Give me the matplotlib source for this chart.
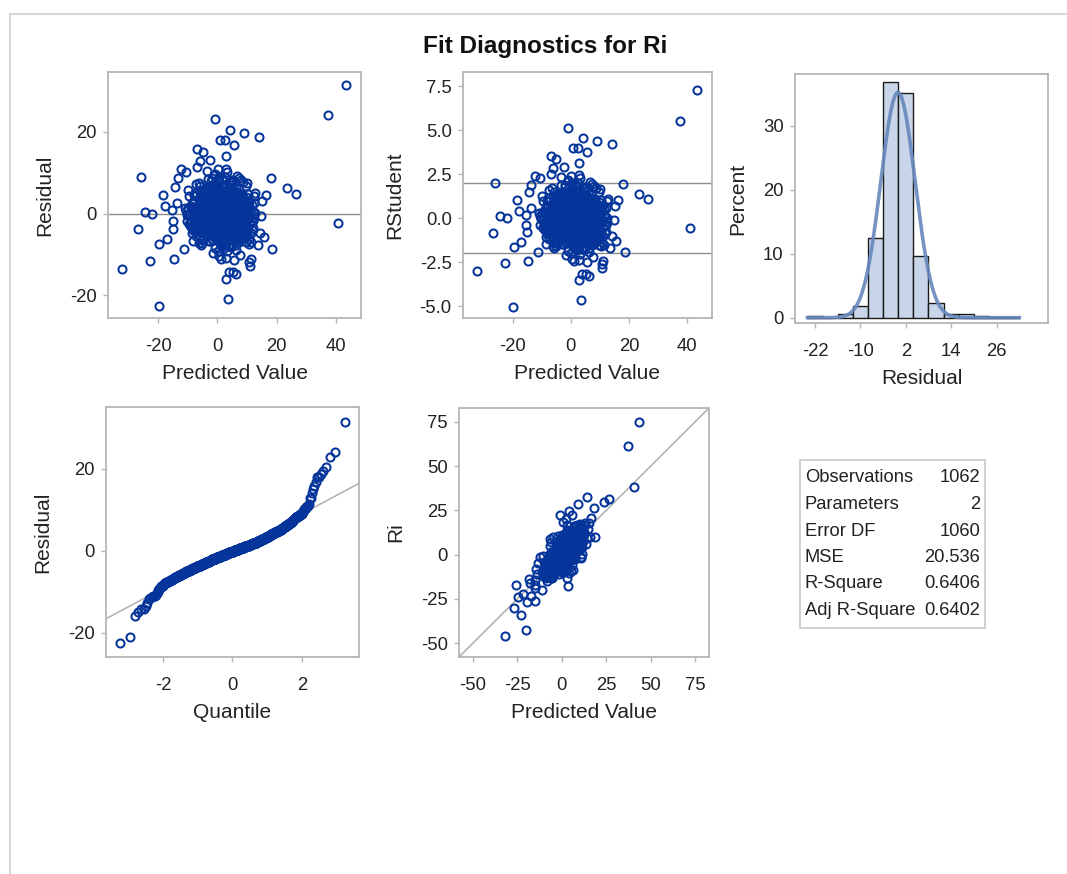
import statistics
import numpy as np
import matplotlib
matplotlib.use("Agg")
import matplotlib.pyplot as plt
from matplotlib.lines import Line2D
from matplotlib.patches import Rectangle

plt.rcParams["font.family"] = ["Liberation Sans", "DejaVu Sans"]
plt.rcParams["axes.unicode_minus"] = False

# points (the ones outside the blob)
outer_pred = [43.3, 37.4, 40.8, -0.8, 4.3, 9.1, 14.0, 0.7, 2.4, 5.6,
              -6.8, -5.0, 3.0, -6.0, -2.4, -12.2, -10.7, -26.0, 18.0, -13.5,
              -14.5, 23.5, 26.4, -18.3, 16.3, -17.9, -24.4, -22.0, -26.7, -15.2,
              -15.0, -17.1, -19.6, -11.2, 18.5, -32.2, -22.7, -14.8, -19.9, 3.4,
              2.9, 3.8, 5.1, 6.4, 1.1, 2.9, 7.6, 10.6, 10.9, 11.2,
              13.6, 15.6, 14.2, 14.8, 15.1, 12.2, 0.1, -8.4, -13.7, -15.3]
outer_resid = [31.5, 24.2, -2.4, 23.0, 20.5, 19.6, 18.8, 18.0, 18.0, 16.8,
               15.9, 15.0, 14.0, 12.9, 13.0, 10.9, 10.2, 9.0, 8.6, 8.6,
               6.6, 6.2, 4.9, 4.6, 4.6, 1.8, 0.4, 0.0, -3.7, -1.8,
               -3.7, -6.1, -7.3, -8.6, -8.6, -13.5, -11.5, -11.1, -22.6, -20.9,
               -15.9, -14.3, -14.3, -14.8, -11.1, -10.8, -10.1, -11.7, -12.7, -11.1,
               -7.7, -5.8, -4.7, -0.5, 3.0, 2.6, -9.1, -6.6, 2.6, 0.8]

# dense core of the cloud (estimated), first block
core_pred = [1.2, -3.4, 5.6, 0.3, 7.9, -1.8, 3.5, -6.2, 2.7, 9.4, -0.5, 4.1, -4.7, 6.3, 1.9,
             -2.6, 8.2, 0.8, -7.5, 3.0, 5.1, -1.1, 10.6, 2.2, -3.9, 6.8, 0.0, -5.4, 4.5, 1.5,
             7.2, -2.0, 3.8, -8.6, 0.6, 5.9, -0.9, 2.9, 11.3, -4.2, 1.7, 6.0, -1.5, 3.3, -6.8,
             4.8, 0.2, 8.7, -3.0, 2.4, -0.2, 6.5, -5.0, 1.0, 9.8, -2.3, 3.6, 0.9, -9.3, 5.3,
             2.0, -1.3, 7.5, -4.5, 4.0, 0.4, -7.0, 3.1, 6.7, -0.7, 1.4, 10.1, -3.6, 5.0, 2.6,
             -5.8, 0.7, 4.4, -2.8, 8.0, 1.6, -0.4, 6.1, -6.5, 3.4, 2.1, -1.9, 12.0, 0.1, 4.9,
             -3.2, 7.0, 1.1, -8.1, 5.5, 2.8, -0.1, 9.0, -4.9, 3.9, 0.5, 6.4, -2.5, 1.8, -10.2,
             4.2, -1.0, 8.5, 2.3, -6.0, 5.7, 0.0, 3.2, -3.3, 7.7, 1.3, -0.8, 10.9, -5.2, 2.5,
             6.2, -2.1, 0.6, 4.6, -7.8, 3.7, 1.9, -1.4, 8.9, -4.0, 5.2, 0.3, -9.0, 2.0, 6.9,
             -0.6, 3.0, -5.6, 7.3, 1.5, -2.9, 4.3, 11.8, -1.2, 2.7, -7.2, 5.8, 0.8, -3.7, 9.6,
             1.0, -0.3, 6.6, -4.4, 3.5, 0.2, 8.3, -6.6, 2.2, 4.7, -1.7, 7.1, -2.4, 1.6, 5.4,
             -8.8, 3.3, 0.9, 6.0, -3.1, 2.6, 10.3, -1.6, 4.0, -5.3, 1.2, 7.6, -0.9, 3.8, -2.2,
             5.9, 0.4, -6.9, 2.9, 8.6, -1.1, 4.5, -4.1, 1.7, 6.3, -9.7, 3.1, 0.1, -2.7, 7.9,
             2.4, -0.5, 5.0, -5.9, 9.2, 1.4, -3.5, 4.1, 0.7, -7.3, 6.8, 2.1, -1.3, 11.0, 3.6,
             -4.6, 0.0, 7.4, -2.0, 4.9, 1.9, -8.4, 5.6, -0.2, 3.4, -6.3, 8.1, 1.1, -1.8, 2.8,
             6.5, -3.8, 0.5, 9.5, -5.1, 3.9, 2.3, -0.7, 7.2, -2.6, 1.3, 5.2, -10.6, 4.4, 0.6,
             -1.5, 8.4, 2.0, -4.8, 6.1, 0.9, -7.6, 3.0, 12.6, -0.4, 4.6, -3.0, 1.5, 7.0, -5.7,
             2.7, 5.7, -1.0, 0.3, -6.1, 9.9, 3.7, -2.3, 1.8, 6.7, -4.3, 0.8, 4.2, -8.0, 2.2,
             7.8, -0.1, 3.2, -3.4, 5.5, 1.0, -1.9, 10.4, -5.5, 2.5, 6.2, -0.6, 4.8, -7.1, 1.6,
             3.5, -2.8, 8.8, 0.2, -4.0, 5.9, 1.2, -0.3, 6.9, -6.7, 2.9, 4.0, -1.4, 9.1, -3.3,
             0.7, 5.3, -9.1, 2.4, 7.5, -0.8, 3.9, -2.1, 1.4, 11.5, -5.0, 4.7, 0.0, -1.6, 6.4,
             -7.9, 2.1, 4.1, -3.6, 8.0, 1.7, -0.5, 5.1, -6.4, 3.6, 0.4, 7.3, -2.4, 1.9, -4.7,
             9.3, 0.9, 3.4, -1.2, 6.6, -5.4, 2.6, 4.5, -8.5, 1.1, 5.8, -0.9, 10.7, -2.9, 3.1,
             0.1, -3.9, 7.7, 2.3, -1.7, 5.0, -6.2, 4.3, 0.6, 8.3, -2.0, 1.5, -10.9, 6.0, 2.8,
             -0.2, 4.9, -4.5, 3.3, 9.7, -1.0, 1.3, 6.5, -7.4, 2.0, -2.5, 5.6, 0.5, 3.7, -5.8,
             8.6, 1.8, -0.6, 4.4, -3.1, 12.3, 0.2, 2.7, -6.0, 7.1, -1.5, 3.0, -9.5, 5.4, 1.0,
             -2.2, 6.3, 0.8, -4.2, 3.8, 10.0, -0.4, 2.2, -7.7, 4.6, 1.6, -1.1, 7.4, -3.5, 0.3]
core_resid = [-7.8, -4.2, -5.6, -4.9, -6.3, -4.1, -5.0, -7.1, -4.6, -5.3, -4.4, -6.0, -4.8, -5.8, -4.3,
              -6.7, -4.5, -5.2, -4.0, -7.4, -4.7, -5.5, -6.1, -4.2, -4.9, -5.9, -4.6, -6.5, -4.1, -5.1,
              -7.0, -4.4, -5.4, -4.8, -6.2, -4.3, -5.7, -4.5, -6.9, -4.0, -5.0, -4.7, -6.4, -5.3, -4.2,
              -7.6, -4.9, -5.6, -4.1, -6.8,
              -3.9, -0.4, -2.1, -1.3, -3.2, -0.8, -2.7, -1.6, -0.2, -3.5, -1.1, -2.4, -0.6, -1.9, -3.0, -0.9,
              -2.6, -1.4, -0.1, -3.7, -1.8, -0.5, -2.2, -3.3, -1.0, -0.3, -2.9, -1.5, -3.8, -0.7, -2.0, -1.2,
              -0.4, -3.1, -1.7, -2.5, -0.2, -3.6, -1.3, -0.8, -2.8, -1.9, -0.6, -3.4, -2.3, -1.0, -0.1, -2.6,
              -1.5, -3.9, -0.9, -2.0, -1.1, -3.2, -0.3, -1.7, -2.4, -0.5, -3.0, -1.4, -0.7, -2.1, -3.5, -1.2,
              -0.2, -2.7, -1.8, -0.6, -3.7, -1.0, -2.3, -0.4, -1.6, -3.1, -0.8, -2.9, -1.3, -0.1, -2.5, -3.4,
              -1.9, -0.5, -2.2, -1.1, -3.8, -0.3, -1.5, -2.8, -0.7, -3.3, -1.7, -0.9, -2.0, -1.2, -3.6, -0.2,
              -2.6, -1.4, -0.6, -3.0, -1.8, -0.4, -2.4, -1.0, -3.5, -0.1, -2.1, -1.6, -0.8, -2.9, -3.9, -1.3,
              -0.5, -2.3, -1.1, -3.2, -0.3, -1.9, -2.7, -0.7, -1.5, -3.7, -0.9, -2.0, -1.2, -0.2, -3.4, -2.5,
              -1.7, -0.6, -2.8, -1.0, -3.1, -0.4, -1.4, -2.2, -0.1, -3.6, -1.8, -0.8, -2.6, -1.3, -0.5, -3.3,
              -2.0, -0.3, -1.6, -2.9, -0.9, -3.8, -1.1, -0.2, -2.4, -1.5, -0.7, -3.0, -1.9, -0.4, -2.2, -1.2,
              0.3, 2.1, 1.2, 3.4, 0.7, 1.8, 2.9, 0.1, 1.5, 3.8, 0.9, 2.4, 1.0, 3.1, 0.5, 1.7,
              2.6, 0.2, 1.3, 3.6, 0.8, 2.0, 1.6, 0.4, 3.0, 1.1, 2.3, 0.6, 3.9, 1.4, 0.0, 2.7,
              1.9, 0.3, 3.3, 1.2, 0.9, 2.5, 0.1, 1.6, 3.7, 0.7, 2.2, 1.0, 2.8, 0.5, 1.4, 3.2,
              0.2, 1.8, 2.0, 0.8, 3.5, 1.1, 0.4, 2.6, 1.5, 0.0, 2.9, 1.3, 0.6, 3.4, 1.7, 0.3,
              2.3, 1.0, 0.9, 3.0, 1.9, 0.1, 2.4, 1.2, 3.8, 0.5, 1.6, 2.1, 0.7, 3.6, 1.4, 0.2,
              2.7, 1.1, 0.4, 3.1, 1.8, 0.8, 2.5, 0.0, 1.3, 3.3, 0.6, 2.0, 1.5, 0.3, 2.8, 1.7,
              0.9, 3.9, 1.0, 2.2, 0.1, 1.6, 3.5, 0.5, 2.6, 1.2, 0.7, 3.2, 1.9, 0.4, 2.3, 1.4,
              0.2, 3.7, 1.1, 2.9, 0.8, 1.8, 0.6, 3.0, 1.3, 2.1, 0.0, 1.5, 2.4, 0.3, 3.4, 1.0,
              0.9, 2.7, 1.7, 0.5, 3.1, 1.2, 2.0, 0.1, 1.6, 3.6, 0.7, 2.5, 1.4, 0.4, 2.2, 1.9,
              1.1, 0.6, 2.8, 1.3, 0.2, 3.3, 1.8, 0.8,
              4.3, 5.7, 4.1, 6.4, 4.8, 5.2, 7.3, 4.5, 6.0, 4.2, 5.5, 4.9, 6.8, 4.0, 5.1, 4.6, 7.7, 5.9, 4.4,
              6.2, 4.7, 5.4, 4.1, 7.0, 5.0, 4.3, 6.6, 5.8, 4.9, 4.2, 5.3, 6.1, 4.6, 7.5, 4.8, 5.6, 4.4, 6.9,
              8.2, 9.4, 8.7, 10.5, 8.4]

# dense core, second block (estimated)
core2_pred = [2.3, -1.6, 4.7, 0.4, 6.2, 3.1, -0.8, 5.5, 1.9, 7.3, -2.9, 3.8, 0.9, -5.1, 2.6,
              5.0, -3.7, 1.2, 8.4, -0.3, 4.2, -6.4, 2.0, 6.8, -1.2, 3.4, 0.1, 9.7, -4.3, 1.6,
              4.9, -2.2, 7.0, 0.7, -7.3, 3.0, 5.8, -0.5, 2.4, 10.5, -3.1, 1.3, 6.1, -1.8, 4.4,
              0.2, -5.7, 3.6, 8.1, -0.9, 2.1, 5.3, -2.6, 1.0, 7.6, -4.8, 3.2, 0.6, -8.2, 4.0,
              2.8, -1.4, 6.5, 0.0, 9.1, -3.4, 1.7, 4.6, -6.0, 2.3, 5.1, -0.2, 7.8, -2.0, 3.5,
              1.1, -4.1, 5.7, 0.8, -1.1, 11.2, 2.9, -5.3, 4.1, 0.3, 6.4, -2.4, 1.5, 8.8, -0.6,
              3.3, -7.0, 2.2, 5.2, -1.5, 0.5, 6.9, -3.8, 4.8, 1.8, -0.1, 9.4, -5.5, 2.7, 7.2,
              -2.8, 0.9, 4.3, -0.4, 3.0, -9.4, 6.0, 1.4, -1.9, 5.6, 2.5, -4.5, 8.5, 0.1, 3.9,
              -3.3, 1.9, 6.7, -0.7, 4.5, -6.6, 2.1, 10.0, -1.3, 3.6, 0.4, -2.3, 5.4, 1.2, -8.7,
              7.5, 0.0, 4.0, -4.0, 2.6, 6.3, -1.0, 1.6, 12.4, -2.7, 3.1, -5.9, 5.0, 0.7, 8.0,
              -0.3, 2.9, -3.5, 6.6, 1.0, -1.7, 4.7, -7.6, 3.4, 0.5, 9.0, -2.1, 5.9, 1.8, -0.9,
              3.7, -4.9, 7.1, 0.2, 2.4, -1.2, 11.7, -6.3, 4.2, 1.3, -0.5, 6.2, -3.0, 2.0, 5.3,
              -10.4, 0.8, 3.5, -2.5, 8.3, 1.5, -0.1, 4.9, -5.2, 2.7, 6.8, -1.6, 0.3, 9.8, -3.9,
              4.4, 1.1, -7.9, 5.7, -0.8, 3.3, 0.0, 7.4, -2.2, 2.2, -4.6, 6.0, 1.7, -1.4, 10.3,
              0.6, 3.8, -6.8, 5.1, -0.2, 2.5, 8.6, -3.6, 1.4, 4.6, -1.0, 7.7, -5.0, 0.9, 3.0,
              -2.0, 6.5, 1.9, -8.9, 4.1, 0.1, 9.3, -1.8, 2.8, -4.2, 5.5, 0.4, -0.6, 7.0, 2.3,
              -3.2, 4.8, 1.2, -6.1, 3.2, 11.0, -0.4, 5.8, -2.9, 1.6, 8.2, -1.1, 3.9, -7.2, 0.7,
              6.1, -0.9, 2.6, -4.4, 4.5, 1.0, -1.5, 10.8, -5.6, 3.6, 0.2, 6.7, -2.4, 1.5, -9.8,
              5.4, 2.1, -0.7, 7.9, -3.4, 3.1, 0.5, -6.7, 4.3, 1.8, -1.3, 9.5, -4.7, 2.4, 6.3,
              -0.1, 3.5, -2.6, 5.0, 0.8, -8.0, 4.7, 1.3, 12.1, -1.7, 2.9, -5.4, 7.3, 0.0, 3.7,
              -3.7, 1.7, 6.9, -0.5, 4.0, -7.0, 2.2, 8.7, -1.9, 0.6, 5.2, -4.1, 3.3, 1.1, -0.3,
              7.6, -2.3, 2.7, -6.0, 4.9, 0.3, 10.2, -1.2, 3.0, -3.1, 6.4, 1.6, -8.5, 4.2, 0.9,
              -0.8, 5.6, 2.0, -4.9, 8.9, 1.4, -2.7, 3.8, 0.1, -5.8, 6.6, 2.5, -1.4, 9.9, 3.4,
              -3.3, 0.7, 4.6, -7.5, 2.8, 5.9, -0.6, 1.9, -2.1, 7.2, 0.4, -4.3, 3.6, 11.4, -1.0,
              2.3, -6.5, 5.3, 0.0, -1.6, 4.1, 8.0, -3.8, 1.2, 6.2, -0.2, 3.1, -9.1, 2.6, 5.0,
              -2.5, 0.9, 7.5, -4.6, 3.9, 1.5, -1.1, 9.2, -5.7, 2.1, 4.4, -0.4, 6.8, -3.0, 1.0,
              3.2, -7.8, 5.7, 0.5, -1.8, 10.6, 2.9, -4.0, 4.8, 0.2, -2.4, 7.8, 1.7, -6.2, 3.5,
              0.8, -0.9, 6.0, -3.5, 2.4, 8.4, -1.3, 4.5, -5.3, 1.3, 5.6, -0.1, 3.0, -8.3, 2.0,
              6.6, -2.2, 1.6, -4.8, 4.2, 0.3, 9.6, -1.5, 3.7, -6.9, 2.7, 5.1, -0.7, 7.1, -3.6,
              1.9, 4.7, -1.0, 0.6, -5.1, 3.3, 11.9, -2.8, 2.2, 6.4, -0.3, 4.0, -7.4, 1.4, 5.4,
              -1.7, 3.6, 0.1, 8.1, -4.5, 2.5, -0.6, 6.2, 1.1, -2.9, 4.9, -9.9, 3.1, 0.7, 7.4,
              -3.9, 2.8, 5.8, -1.2, 1.8, -6.4, 4.3, 0.4, 9.0, -2.0, 3.4, -4.2, 6.9, 1.2, -0.8,
              4.6, -5.9, 2.1, 7.7, -1.4, 0.0, 5.2, -3.2, 3.9, 10.1, -0.5, 1.5, -7.1, 4.1, 2.6,
              -2.6, 6.1, 0.8, -4.7, 3.2, 8.6, -1.9, 2.3, -0.2, 5.5, -5.5, 1.7, 4.4, -1.1, 7.0,
              0.5, -8.6, 3.7, 1.0, -3.0, 6.5, 2.0, -0.7, 9.4, -4.4, 4.8, 0.2, -2.3, 5.9, 1.3,
              -6.6, 3.0, 7.3, -1.6, 2.6, -0.1, 4.5, -3.7, 12.8, 1.6, -5.2, 5.3, 0.6, -2.1, 3.5,
              8.3, -0.9, 1.8, -4.9, 4.0, 0.3, 6.7, -7.7, 2.4, -1.3, 5.0, 1.1, -2.8, 10.4, -0.4,
              3.8, -6.3, 2.9, 0.9, -1.7, 7.5, -3.4, 4.7, 1.4, -10.0, 5.7, 0.0, -2.5, 3.3, 6.3,
              -0.6, 2.1, -5.0, 8.7, 1.6, -1.5, 4.2, -3.5, 0.7, 6.0, 2.7, -8.1, 3.6, -0.2, 9.8,
              1.2, -4.1, 5.1, 0.4, -2.0, 3.1, 7.9, -6.8, 2.5, -1.0, 4.6, 0.1, -3.3, 6.6, 1.7,
              2.9]
core2_resid = [-8.3, -9.6, -8.1, -10.4, -8.8, -9.2, -8.5, -11.3, -8.0,
               -4.3, -6.6, -5.1, -4.0, -7.2, -4.8, -5.7, -4.5, -6.1, -4.2, -5.4, -7.9, -4.6, -5.0, -6.4,
               -4.1, -5.8, -4.9, -6.9, -4.4, -5.3, -7.5, -4.7, -6.0, -4.2, -5.5, -4.0, -6.7, -5.2, -4.6,
               -7.3, -4.3, -5.9, -4.8, -6.2, -4.1, -5.1, -7.7, -4.5, -5.6, -4.9, -6.5, -4.4, -5.0, -7.0,
               -4.2, -6.3, -4.7, -5.4, -4.0, -7.8, -5.7, -4.6, -6.1, -4.3, -5.2, -4.9, -6.8, -4.1, -5.5,
               -7.4, -4.5, -6.0, -4.8, -5.3, -4.2, -6.6, -5.0, -4.4, -7.1, -5.8, -4.7, -6.3, -4.0, -5.6,
               -4.3, -7.6,
               -0.6, -2.3, -1.4, -3.8, -0.2, -1.9, -2.8, -0.9, -3.3, -1.1, -0.4, -2.6, -1.6, -3.5, -0.7,
               -2.0, -1.2, -3.0, -0.1, -2.4, -1.7, -0.8, -3.6, -1.3, -2.2, -0.5, -2.9, -1.0, -3.9, -0.3,
               -1.8, -2.5, -0.6, -3.2, -1.5, -0.9, -2.1, -3.7, -1.2, -0.2, -2.7, -1.4, -0.7, -3.4, -2.0,
               -1.1, -0.4, -2.3, -3.1, -0.8, -1.7, -2.6, -0.1, -3.8, -1.5, -0.5, -2.2, -1.0, -3.0, -1.9,
               -0.3, -2.8, -1.3, -0.6, -3.5, -2.4, -0.9, -1.6, -3.3, -0.2, -2.1, -1.2, -0.7, -2.9, -1.8,
               -3.6, -0.4, -1.4, -2.5, -0.8, -3.2, -1.1, -0.1, -2.0, -1.7, -3.9, -0.5, -2.7, -1.3, -0.3,
               -2.2, -1.0, -3.4, -0.6, -1.9, -2.6, -0.2, -1.5, -3.1, -0.9, -2.3, -1.2, -0.4, -3.7, -1.6,
               -0.7, -2.8, -1.8, -0.1, -3.0, -2.1, -0.5, -1.4, -2.4, -0.8, -3.5, -1.1, -0.3, -2.0, -1.7,
               -3.3, -0.6, -2.5, -1.3, -0.2, -2.9, -1.0, -3.8, -0.9, -1.9, -2.2, -0.4, -1.5, -3.6, -0.7,
               -2.7, -1.2, -0.1, -2.3, -1.8, -3.2, -0.5, -1.6, -2.6, -0.3, -3.0, -1.4, -0.8, -2.1, -1.1,
               -0.6, -3.4, -1.7, -0.2, -2.4, -1.3, -3.9, -0.9, -2.0, -0.4, -1.5, -2.8, -1.0, -3.1, -0.7,
               -1.9, -0.1, -2.5, -1.2, -3.7, -0.5, -1.8, -2.2, -0.3, -1.6, -3.5, -0.8, -2.9, -1.4, -0.6,
               -2.3, -1.1, -3.3, -0.2, -1.7, -2.7, -0.9, -1.3, -3.0, -0.4, -2.0, -1.5, -0.7, -3.6, -2.6,
               -0.1, -1.9, -1.0, -2.4, -0.5, -3.2, -1.6, -0.3, -2.1, -1.2, -3.8, -0.8, -1.8, -2.8, -0.6,
               -1.4, -3.4, -0.2, -2.5, -1.1, -0.9, -2.2, -1.7, -0.4, -3.1, -1.3, -0.7, -2.0, -1.5, -0.1,
               0.4, 1.9, 0.8, 2.7, 1.3, 0.1, 3.3, 1.6, 0.6, 2.2, 1.0, 3.7, 0.3, 1.4, 2.5,
               0.9, 1.7, 0.2, 3.0, 1.2, 0.5, 2.4, 1.8, 0.0, 3.5, 1.1, 0.7, 2.1, 1.5, 0.3,
               2.8, 1.0, 0.4, 3.9, 1.6, 0.8, 2.3, 1.3, 0.1, 3.2, 1.9, 0.6, 2.6, 1.1, 0.2,
               1.4, 3.6, 0.9, 2.0, 1.7, 0.5, 2.9, 1.2, 0.0, 3.4, 1.5, 0.7, 2.2, 1.0, 0.3,
               3.1, 1.8, 0.8, 2.5, 1.3, 0.4, 3.8, 1.6, 0.1, 2.7, 1.1, 0.6, 2.0, 1.4, 0.2,
               3.3, 1.9, 0.9, 2.4, 1.2, 0.5, 3.0, 1.7, 0.0, 2.1, 1.0, 0.7, 3.6, 1.5, 0.3,
               2.8, 1.3, 0.8, 2.3, 1.8, 0.4, 3.5, 1.1, 0.1, 2.6, 1.6, 0.6, 3.2, 1.4, 0.2,
               1.9, 0.9, 2.9, 1.2, 0.5, 3.9, 1.7, 0.0, 2.2, 1.0, 0.7, 3.1, 1.5, 0.3, 2.5,
               1.3, 0.8, 3.4, 1.8, 0.4, 2.0, 1.1, 0.1, 2.7, 1.6, 0.6, 3.7, 1.4, 0.2, 2.4,
               1.9, 0.9, 3.0, 1.2, 0.5, 2.1, 1.7, 0.0, 3.3, 1.0, 0.7, 2.6, 1.5, 0.3, 2.8,
               1.3, 0.8, 3.8, 1.8, 0.4, 2.3, 1.1, 0.1, 3.2, 1.6, 0.6, 2.0, 1.4, 0.2, 3.5,
               1.9, 0.9, 2.5, 1.2, 0.5, 3.1, 1.7, 0.0, 2.2, 1.0, 0.7, 3.6, 1.5, 0.3, 2.9,
               1.3, 0.8, 2.4, 1.8, 0.4, 3.4, 1.1, 0.1, 2.7, 1.6, 0.6, 3.9, 1.4, 0.2, 2.1,
               1.0, 0.5, 3.0, 1.7, 0.9, 2.6, 1.2, 0.3, 3.3, 1.5, 0.7, 2.3, 1.9, 0.0, 2.8,
               1.1, 0.4, 3.7, 1.6, 0.8, 2.0,
               4.5, 6.1, 4.2, 5.3, 7.4, 4.8, 5.0, 6.7, 4.1, 5.6, 4.4, 7.9, 5.2, 4.7, 6.3,
               4.0, 5.8, 4.6, 6.9, 4.3, 5.1, 7.1, 4.9, 5.5, 4.2, 6.4, 4.7, 5.9, 4.1, 7.6,
               5.4, 4.5, 6.0, 4.8, 5.2, 4.3, 6.6, 5.7, 4.0, 7.2, 4.6, 5.0, 6.2, 4.4, 5.3,
               4.9, 7.8, 4.2, 5.6, 4.7, 6.5, 4.1, 5.1, 7.0, 4.5, 5.9, 4.3, 6.8, 4.8, 5.4,
               8.1, 9.0, 8.6, 10.2, 8.3, 11.4, 8.9, 9.7, 8.0, 10.8, 8.5, 9.3, 8.2, 11.0]

# residual histogram, percent per bin
hist_edges = [-24, -20, -16, -12, -8, -4, 0, 4, 8, 12, 16, 20, 24, 28, 32]
hist_pct = [0.2, 0.0, 0.5, 1.8, 12.5, 36.8, 35.2, 9.7, 2.3, 0.5, 0.5, 0.2, 0.1, 0.1]

stat_names = ["Observations", "Parameters", "Error DF", "MSE", "R-Square", "Adj R-Square"]
stat_values = ["1062", "2", "1060", "20.536", "0.6406", "0.6402"]

n_obs = 1062
n_parm = 2
mse = 20.536

k1 = min(len(core_pred), len(core_resid))
k2 = min(len(core2_pred), len(core2_resid))
pred = np.array(outer_pred + core_pred[:k1] + core2_pred[:k2])
resid = np.array(outer_resid + core_resid[:k1] + core2_resid[:k2])
ri = pred + resid

# studentized deleted residuals
s = np.sqrt(mse)
lev = 1.0 / n_obs + (pred - pred.mean()) ** 2 / (n_obs * pred.var())
r_int = resid / (s * np.sqrt(1 - lev))
dfe = n_obs - n_parm
rstudent = r_int * np.sqrt((dfe - 1) / (dfe - r_int ** 2))

# normal quantiles (Blom)
n = len(resid)
nd = statistics.NormalDist()
quant = np.array([nd.inv_cdf((i - 0.375) / (n + 0.25)) for i in range(1, n + 1)])
resid_sorted = np.sort(resid)

W, H = 1067, 874
fig = plt.figure(figsize=(W / 100, H / 100), dpi=100)

mcol = "#05349a"
spine_col = "#b5b5b5"
ref_col = "#8c8c8c"
diag_col = "#b4b4b4"
txt_col = "#222222"
lab_fs = 15


def add_panel(x0, y0, x1, y1):
    ax = fig.add_axes([x0 / W, 1 - y1 / H, (x1 - x0) / W, (y1 - y0) / H])
    for sp in ax.spines.values():
        sp.set_color(spine_col)
        sp.set_linewidth(1.3)
    ax.tick_params(direction="out", length=3.6, width=1, color=spine_col,
                   labelsize=13.3, labelcolor=txt_col)
    ax.tick_params(axis="x", pad=10.5)
    ax.tick_params(axis="y", pad=4.5)
    return ax


def labels(ax, xl, yl):
    ax.set_xlabel(xl, fontsize=lab_fs, color=txt_col, labelpad=7)
    ax.set_ylabel(yl, fontsize=lab_fs, color=txt_col, labelpad=11)


def scatter(ax, x, y):
    ax.plot(x, y, "o", ms=5.8, mfc="none", mec=mcol, mew=1.45, zorder=3)


# residual by predicted
ax1 = add_panel(108, 72, 361, 318)
ax1.axhline(0, color=ref_col, lw=1, zorder=1)
scatter(ax1, pred, resid)
ax1.set_xlim(-37, 48.5)
ax1.set_ylim(-25.5, 34.6)
ax1.set_xticks([-20, 0, 20, 40])
ax1.set_yticks([-20, 0, 20])
labels(ax1, "Predicted Value", "Residual")

# rstudent by predicted
ax2 = add_panel(463, 72, 712, 318)
ax2.axhline(2, color=ref_col, lw=1, zorder=1)
ax2.axhline(-2, color=ref_col, lw=1, zorder=1)
scatter(ax2, pred, rstudent)
ax2.set_xlim(-37, 48.5)
ax2.set_ylim(-5.68, 8.3)
ax2.set_xticks([-20, 0, 20, 40])
ax2.set_yticks([-5, -2.5, 0, 2.5, 5, 7.5])
ax2.set_yticklabels(["-5.0", "-2.5", "0.0", "2.5", "5.0", "7.5"])
labels(ax2, "Predicted Value", "RStudent")

# histogram of residuals with normal curve
ax3 = add_panel(795, 74, 1048, 323)
edges = np.array(hist_edges)
ax3.bar(edges[:-1], hist_pct, width=np.diff(edges), align="edge",
        color="#c9d6e9", edgecolor="#1a1a1a", linewidth=1, zorder=2)
xs = np.linspace(edges[0], edges[-1], 400)
mu = resid.mean()
curve = 100 * 4 * np.exp(-0.5 * ((xs - mu) / s) ** 2) / (s * np.sqrt(2 * np.pi))
ax3.plot(xs, curve, color="#6788bd", lw=2.6, alpha=0.9, zorder=3)
ax3.set_xlim(-27.3, 39.6)
ax3.set_ylim(-0.83, 38.1)
ax3.set_xticks([-22, -10, 2, 14, 26])
ax3.set_yticks([0, 10, 20, 30])
labels(ax3, "Residual", "Percent")

# normal quantile plot
ax4 = add_panel(106, 407, 359, 657)
qx = np.array([-3.64, 3.65])
ax4.plot(qx, mu + s * qx, color=diag_col, lw=1.2, zorder=1)
scatter(ax4, quant, resid_sorted)
ax4.set_xlim(-3.64, 3.65)
ax4.set_ylim(-25.9, 35.1)
ax4.set_xticks([-2, 0, 2])
ax4.set_yticks([-20, 0, 20])
labels(ax4, "Quantile", "Residual")

# observed by predicted
ax5 = add_panel(459, 408, 709, 657)
lim = (-57.8, 82.8)
ax5.plot(lim, lim, color=diag_col, lw=1.2, zorder=1)
scatter(ax5, pred, ri)
ax5.set_xlim(lim)
ax5.set_ylim(lim)
ticks5 = [-50, -25, 0, 25, 50, 75]
ax5.set_xticks(ticks5)
ax5.set_yticks(ticks5)
labels(ax5, "Predicted Value", "Ri")

# fit statistics box
fig.add_artist(Rectangle((800 / W, 1 - 628 / H), 185 / W, 168 / H,
                         transform=fig.transFigure, fill=False,
                         edgecolor="#c8c8c8", linewidth=1.2))
for i, (nm, val) in enumerate(zip(stat_names, stat_values)):
    yy = 1 - (478 + i * 26.5) / H
    fig.text(805 / W, yy, nm, ha="left", va="center", fontsize=13.2, color=txt_col)
    fig.text(980 / W, yy, val, ha="right", va="center", fontsize=13.2, color=txt_col)

fig.text(545 / W, 1 - 46 / H, "Fit Diagnostics for Ri", ha="center", va="center",
         fontsize=17.5, fontweight="bold", color="#111111")

# page border
fig.add_artist(Line2D([10 / W, 1], [1 - 14 / H, 1 - 14 / H], transform=fig.transFigure,
                      color="#d8d8d8", lw=1.5))
fig.add_artist(Line2D([10 / W, 10 / W], [0, 1 - 14 / H], transform=fig.transFigure,
                      color="#d8d8d8", lw=1.5))

fig.savefig("out.png", dpi=100)
